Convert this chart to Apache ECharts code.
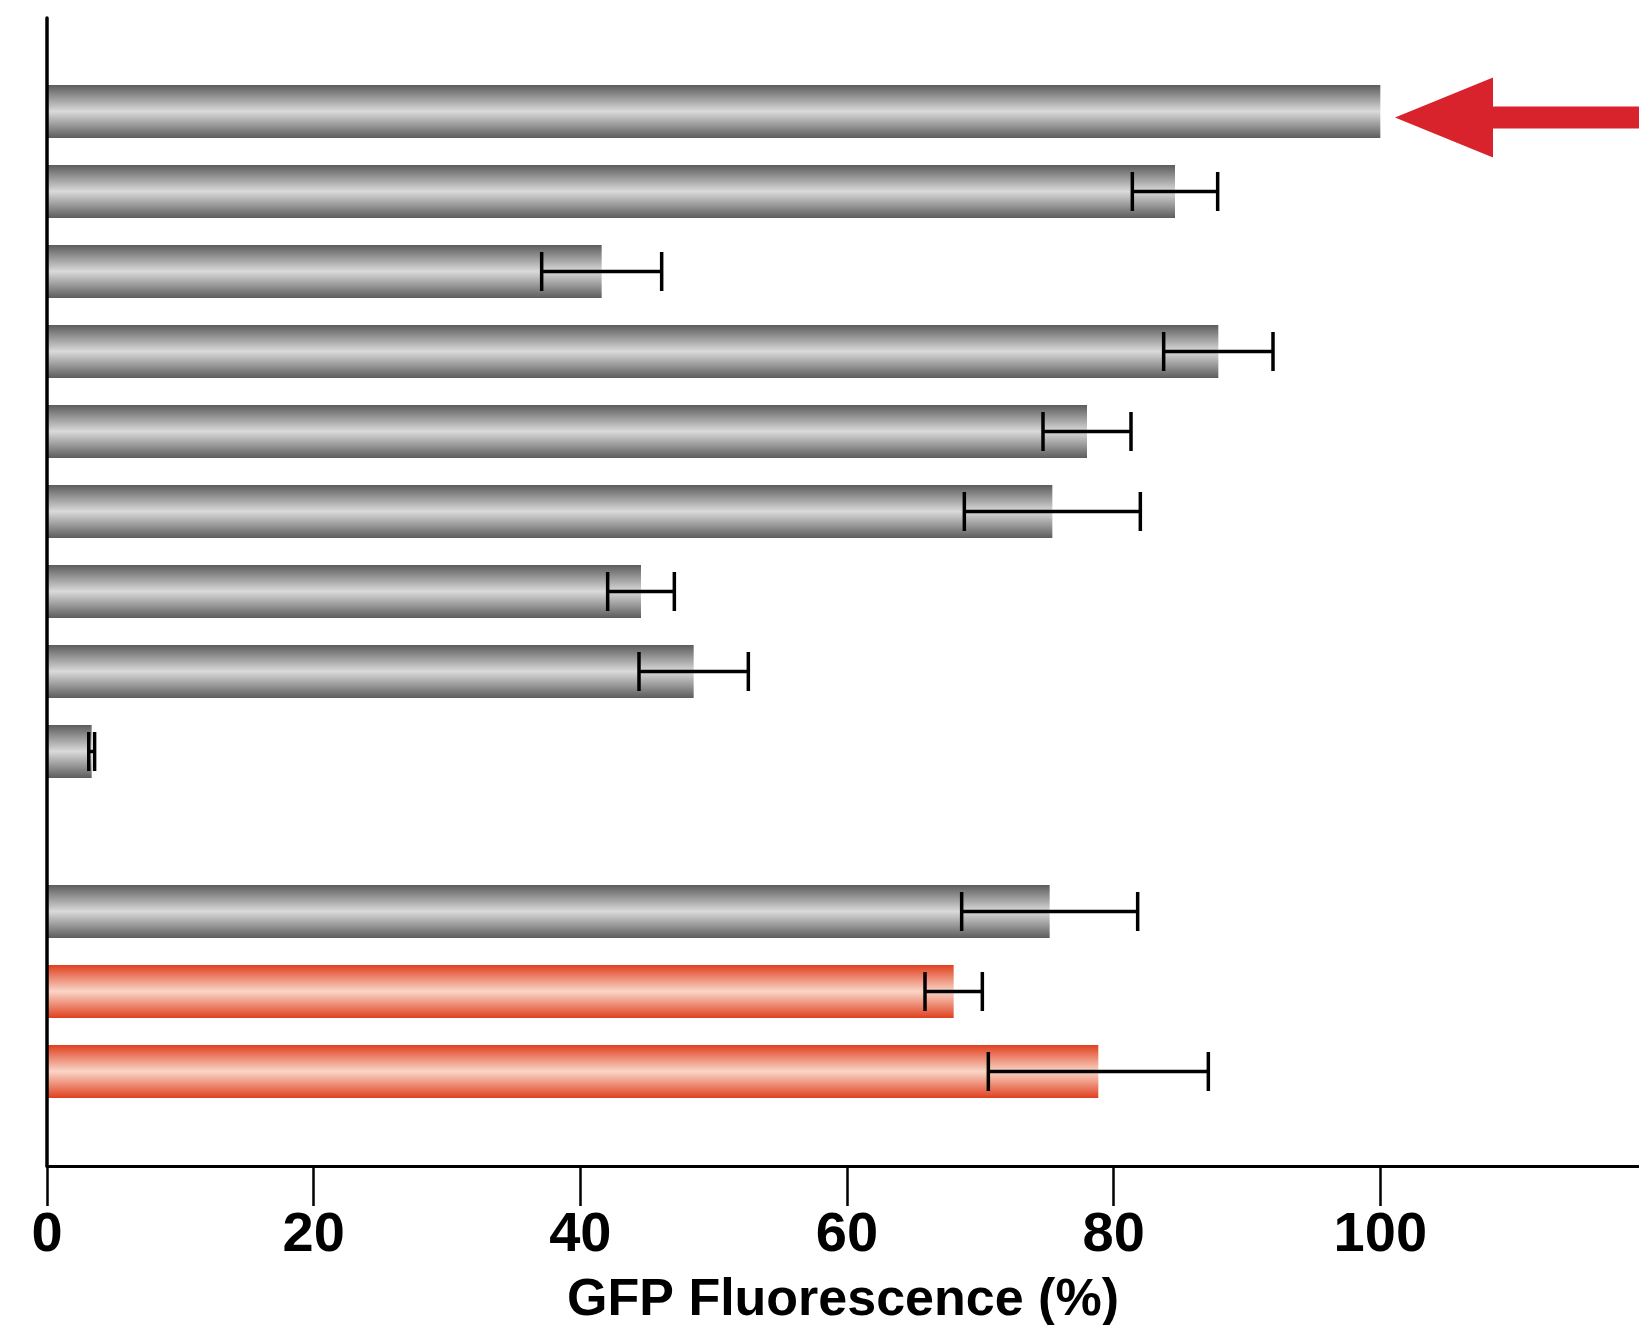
<!DOCTYPE html>
<html>
<head>
<meta charset="utf-8">
<script src="https://cdn.jsdelivr.net/npm/echarts@6/dist/echarts.min.js"></script>
<style>
  html, body { margin: 0; padding: 0; background: #ffffff; }
  #chart { width: 1639px; height: 1325px; }
</style>
</head>
<body>
<div id="chart"></div>
<script>
// One row per construct, top to bottom; the empty row separates the two groups.
const rows = ['R1', 'R2', 'R3', 'R4', 'R5', 'R6', 'R7', 'R8', 'R9', '', 'R10', 'R11', 'R12'];
// Mean GFP fluorescence (% of reference construct)
const fluorescence = [100, 84.6, 41.6, 87.85, 78.0, 75.4, 44.55, 48.5, 3.35, null, 75.2, 68.0, 78.85];
// Half-width of the error bar (same units)
const errorHalf = [0, 3.2, 4.5, 4.1, 3.3, 6.6, 2.5, 4.1, 0.22, null, 6.6, 2.15, 8.25];
// Bar colour family per row
const rowTone = ['grey', 'grey', 'grey', 'grey', 'grey', 'grey', 'grey', 'grey', 'grey', null, 'grey', 'red', 'red'];
// Labelled ticks on the fluorescence axis
const tickValues = [0, 20, 40, 60, 80, 100];
// Row marked by the arrow
const markedRow = 0;

const AXIS_MAX = 119.4;
const LEFT = 47;

function tubeGradient(edge, centre) {
  return new echarts.graphic.LinearGradient(0, 0, 0, 1, [
    { offset: 0, color: edge },
    { offset: 0.5, color: centre },
    { offset: 1, color: edge }
  ]);
}
const tones = {
  grey: tubeGradient('#5c5c5c', '#dadada'),
  red: tubeGradient('#e0401f', '#f9d6c8')
};

const barData = fluorescence.map((v, i) =>
  v == null ? '-' : { value: v, itemStyle: { color: tones[rowTone[i]] } });

const errData = [];
fluorescence.forEach((v, i) => {
  if (v != null && errorHalf[i]) errData.push([v, i, errorHalf[i]]);
});

const fontMain = "'Liberation Sans', Arial, sans-serif";

const chart = echarts.init(document.getElementById('chart'), null, { renderer: 'canvas' });

chart.setOption({
  animation: false,
  backgroundColor: '#ffffff',
  grid: [
    // frame with the axes
    { left: LEFT, right: 0, top: 18, bottom: 159, outerBoundsMode: 'none', containLabel: false },
    // bars, one 80 px band per row
    { left: LEFT, right: 0, top: 71.5, height: 1040, outerBoundsMode: 'none', containLabel: false }
  ],
  xAxis: [
    {
      gridIndex: 0, type: 'value', min: 0, max: AXIS_MAX, z: 10,
      splitLine: { show: false },
      axisLine: { show: true, lineStyle: { color: '#000', width: 3 } },
      axisTick: { show: true, length: 40, customValues: tickValues, lineStyle: { color: '#000', width: 2.5 } },
      axisLabel: {
        show: true, customValues: tickValues, margin: 42,
        color: '#000', fontSize: 56, fontWeight: 'bold', fontFamily: fontMain
      },
      name: 'GFP Fluorescence (%)', nameLocation: 'middle', nameGap: 109,
      nameTextStyle: { color: '#000', fontSize: 52, fontWeight: 'bold', fontFamily: fontMain }
    },
    {
      gridIndex: 1, type: 'value', min: 0, max: AXIS_MAX, show: false
    }
  ],
  yAxis: [
    {
      gridIndex: 0, type: 'value', min: 0, max: 1, z: 10,
      splitLine: { show: false },
      axisLine: { show: true, onZero: false, lineStyle: { color: '#000', width: 3.5 } },
      axisTick: { show: false },
      axisLabel: { show: false }
    },
    {
      gridIndex: 1, type: 'category', data: rows, inverse: true, show: false
    }
  ],
  series: [
    {
      type: 'bar', xAxisIndex: 1, yAxisIndex: 1,
      data: barData, barWidth: 53, z: 2
    },
    {
      type: 'custom', xAxisIndex: 1, yAxisIndex: 1, z: 5, clip: false,
      data: errData,
      encode: { x: 0, y: 1 },
      renderItem(params, api) {
        const v = api.value(0), idx = api.value(1), e = api.value(2);
        const lo = api.coord([v - e, idx]);
        const hi = api.coord([v + e, idx]);
        const cap = 19.5;
        const style = { stroke: '#000', lineWidth: 3.5 };
        return {
          type: 'group',
          children: [
            { type: 'line', shape: { x1: lo[0], y1: lo[1], x2: hi[0], y2: hi[1] }, style },
            { type: 'line', shape: { x1: lo[0], y1: lo[1] - cap, x2: lo[0], y2: lo[1] + cap }, style },
            { type: 'line', shape: { x1: hi[0], y1: hi[1] - cap, x2: hi[0], y2: hi[1] + cap }, style }
          ]
        };
      }
    },
    {
      // arrow pointing at the marked row
      type: 'custom', xAxisIndex: 1, yAxisIndex: 1, z: 5, clip: false,
      data: [[fluorescence[markedRow] + 1.1, markedRow]],
      encode: { x: 0, y: 1 },
      renderItem(params, api) {
        const tip = api.coord([api.value(0), api.value(1)]);
        const x = tip[0], y = tip[1] + 6;
        const headLen = 98, headHalf = 40, shaftHalf = 11;
        const right = api.getWidth();
        return {
          type: 'polygon',
          shape: {
            points: [
              [x, y], [x + headLen, y - headHalf], [x + headLen, y - shaftHalf],
              [right, y - shaftHalf], [right, y + shaftHalf],
              [x + headLen, y + shaftHalf], [x + headLen, y + headHalf]
            ]
          },
          style: { fill: '#d9232c' }
        };
      }
    }
  ]
});
</script>
</body>
</html>
